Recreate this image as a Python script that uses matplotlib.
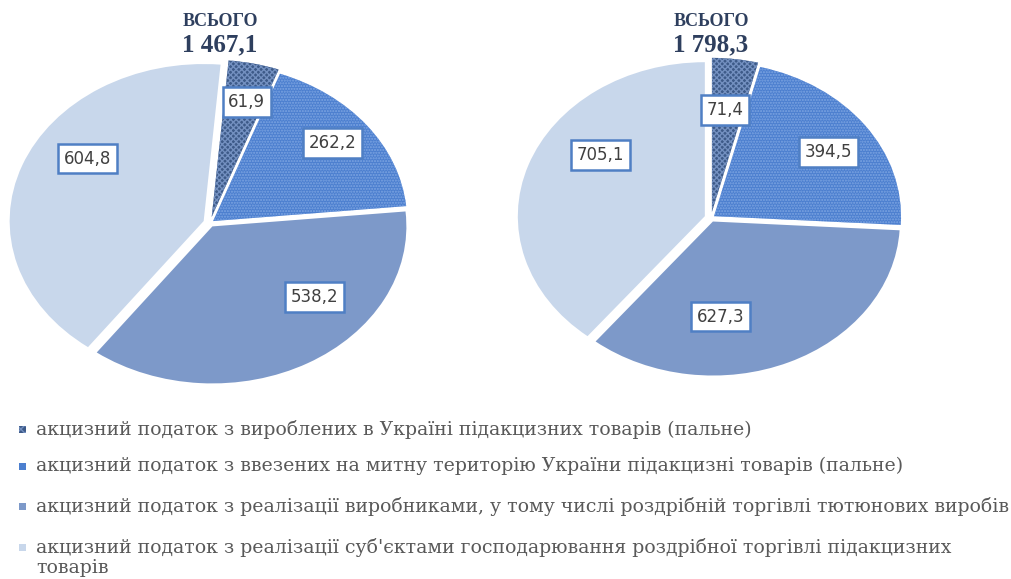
import matplotlib
matplotlib.use("Agg")
import matplotlib.pyplot as plt
from matplotlib.patches import Rectangle

categories = [
    "акцизний податок з вироблених в Україні підакцизних товарів (пальне)",
    "акцизний податок з ввезених на митну територію України підакцизні товарів (пальне)",
    "акцизний податок з реалізації виробниками, у тому числі роздрібній торгівлі тютюнових виробів",
    "акцизний податок з реалізації суб'єктами господарювання роздрібної торгівлі підакцизних\nтоварів",
]
values_left = [61.9, 262.2, 538.2, 604.8]
values_right = [71.4, 394.5, 627.3, 705.1]
total_left = "1 467,1"
total_right = "1 798,3"

# data-label anchor positions (in pie units, x then y), as placed in the original
label_xy_left = [(0.19, 0.77), (0.63, 0.51), (0.54, -0.47), (-0.63, 0.41)]
label_xy_right = [(0.075, 0.70), (0.63, 0.43), (0.05, -0.64), (-0.59, 0.41)]

colors = ["#3D5A88", "#4C7FCF", "#7D99C9", "#C8D7EB"]
hatch_colors = ["#7390C0", "#7DA5E2", "#7D99C9", "#C8D7EB"]
hatches = ["xxxxxx", "......", None, None]
explode = [0.04, 0.02, 0.025, 0.035]

W, H = 1011, 579
fig = plt.figure(figsize=(W / 100, H / 100), dpi=100)

def px_axes(x0, y0, x1, y1):
    return fig.add_axes([x0 / W, 1 - y1 / H, (x1 - x0) / W, (y1 - y0) / H])

def draw_pie(ax, vals, total, label_xy, cx, start):
    wedges, texts = ax.pie(vals, startangle=start, counterclock=False, explode=explode,
                           colors=colors, radius=1.0,
                           wedgeprops=dict(linewidth=0))
    for w, hc, h in zip(wedges, hatch_colors, hatches):
        w.set_edgecolor(hc)
        w.set_linewidth(0)
        if h:
            w.set_hatch(h)
    for v, (lx, ly) in zip(vals, label_xy):
        s = f"{v:.1f}".replace(".", ",")
        ax.text(lx, ly, s, ha="center", va="center",
                fontsize=12, color="#404040", family="DejaVu Sans",
                bbox=dict(boxstyle="square,pad=0.35", fc="white", ec="#4F7FC4", lw=1.8))
    ax.set_aspect("auto")
    ax.set_xlim(-1, 1)
    ax.set_ylim(-1, 1)
    ax.axis("off")
    fig.text(cx / W, 1 - 22 / H, "ВСЬОГО", ha="center", va="center", fontsize=13,
             fontweight="bold", family="Liberation Serif", color="#2E3F5E")
    fig.text(cx / W, 1 - 45 / H, total, ha="center", va="center", fontsize=18,
             fontweight="bold", family="Liberation Serif", color="#2E3F5E")

axL = px_axes(16, 66, 404, 380)
draw_pie(axL, values_left, total_left, label_xy_left, 220, 85)
axR = px_axes(524, 64, 898, 372)
draw_pie(axR, values_right, total_right, label_xy_right, 711, 90)

ys = [430, 467, 507, 548]
for y, lab, c, h, hc in zip(ys, categories, colors, hatches, hatch_colors):
    fig.patches.append(Rectangle((19 / W, 1 - (y + 3) / H), 7 / W, 7 / H,
                                 transform=fig.transFigure, facecolor=c,
                                 edgecolor=hc if h else c, linewidth=0,
                                 hatch=("xxxx" if h == "xxxxxx" else None)))
    fig.text(36 / W, 1 - (y - 10) / H, lab, ha="left", va="top", fontsize=13.6,
             family="DejaVu Serif", color="#595959", linespacing=1.15)

fig.savefig("out.png", dpi=100)
